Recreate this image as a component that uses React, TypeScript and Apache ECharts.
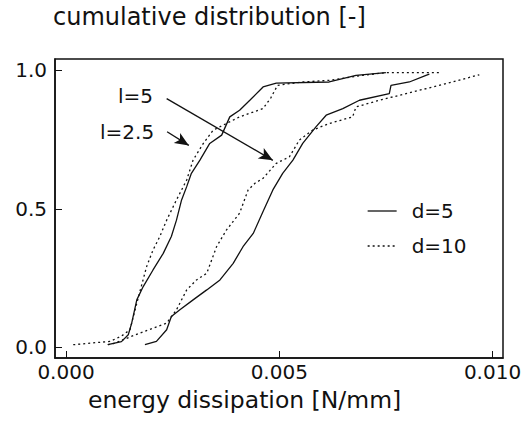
import React, { useEffect, useRef } from "react";
import * as echarts from "echarts";

// Tick values
const xTicks = [0, 0.005, 0.01];
const yTicks = [0, 0.5, 1.0];

// l = 2.5, d = 5 (solid, left)
const l25d5: [number, number][] = [
  [0.00098, 0.009], [0.0013, 0.02], [0.00146, 0.045], [0.00154, 0.087], [0.00166, 0.171],
  [0.00181, 0.219], [0.00204, 0.279], [0.00228, 0.339], [0.00247, 0.4], [0.00259, 0.459],
  [0.00271, 0.532], [0.00283, 0.58], [0.00294, 0.628], [0.00314, 0.676], [0.00337, 0.736],
  [0.00365, 0.766], [0.00384, 0.832], [0.00407, 0.856], [0.00431, 0.892], [0.00462, 0.94],
  [0.00493, 0.954], [0.00617, 0.958], [0.0068, 0.982], [0.0075, 0.992],
];

// l = 2.5, d = 10 (dotted, left)
const l25d10: [number, number][] = [
  [0.00017, 0.009], [0.0006, 0.015], [0.00103, 0.021], [0.0013, 0.04], [0.0015, 0.063],
  [0.00166, 0.159], [0.00189, 0.291], [0.00204, 0.351], [0.0022, 0.4], [0.00236, 0.459],
  [0.00259, 0.532], [0.00283, 0.604], [0.00298, 0.676], [0.00322, 0.736], [0.00345, 0.784],
  [0.00376, 0.808], [0.00407, 0.832], [0.00462, 0.862], [0.0048, 0.9], [0.00496, 0.946],
  [0.00555, 0.958], [0.00617, 0.964], [0.00696, 0.982], [0.0075, 0.992], [0.00875, 0.992],
];

// l = 5, d = 5 (solid, right)
const l5d5: [number, number][] = [
  [0.00185, 0.009], [0.00212, 0.021], [0.00236, 0.063], [0.00247, 0.111], [0.00267, 0.135],
  [0.00298, 0.171], [0.0033, 0.207], [0.00361, 0.243], [0.00392, 0.303], [0.00415, 0.363],
  [0.00439, 0.411], [0.00462, 0.49], [0.00485, 0.568], [0.00508, 0.628], [0.00532, 0.676],
  [0.00555, 0.736], [0.00586, 0.796], [0.0061, 0.838], [0.00649, 0.862], [0.00688, 0.892],
  [0.00758, 0.916], [0.00762, 0.946], [0.00805, 0.958], [0.00844, 0.982], [0.00852, 0.986],
];

// l = 5, d = 10 (dotted, right)
const l5d10: [number, number][] = [
  [0.00098, 0.009], [0.00111, 0.013], [0.00173, 0.051], [0.00236, 0.087], [0.00259, 0.135],
  [0.00283, 0.207], [0.00306, 0.243], [0.0033, 0.267], [0.00353, 0.363], [0.00376, 0.423],
  [0.00407, 0.484], [0.00427, 0.568], [0.00443, 0.592], [0.00462, 0.61], [0.00493, 0.664],
  [0.00524, 0.688], [0.00547, 0.748], [0.00578, 0.784], [0.00617, 0.808], [0.00672, 0.832],
  [0.0068, 0.868], [0.00735, 0.892], [0.00813, 0.922], [0.00891, 0.952], [0.00969, 0.984],
];

// Annotation arrows: [start, end] in data coordinates
const arrowL5: [number, number][] = [[0.00236, 0.898], [0.00485, 0.675]];
const arrowL25: [number, number][] = [[0.00237, 0.778], [0.00288, 0.729]];

const FONT = "DejaVu Sans";
const INK = "#111";

export default function App() {
  const ref = useRef<HTMLDivElement>(null);
  useEffect(() => {
    if (!ref.current) return;
    const chart = echarts.init(ref.current, undefined, { renderer: "svg" });
    const solid = { color: INK, width: 1.3, type: "solid" as const };
    const dotted = { color: INK, width: 1.3, type: [2, 3] as any };
    chart.setOption({
      animation: false,
      backgroundColor: "#fff",
      grid: {
        left: 55,
        right: 24,
        top: 59,
        bottom: 80,
        show: true,
        borderColor: INK,
        borderWidth: 1.5,
      },
      xAxis: {
        type: "value",
        min: -0.000258,
        max: 0.010246,
        axisLine: { show: true, onZero: false, lineStyle: { color: INK, width: 1.5 } },
        axisTick: { show: true, inside: true, length: 7, customValues: xTicks, lineStyle: { color: INK, width: 1 } },
        axisLabel: {
          customValues: xTicks,
          formatter: (v: number) => v.toFixed(3),
          fontSize: 20,
          fontFamily: FONT,
          color: INK,
          margin: 4,
        },
        splitLine: { show: false },
      },
      yAxis: {
        type: "value",
        min: -0.039,
        max: 1.041,
        axisLine: { show: true, onZero: false, lineStyle: { color: INK, width: 1.5 } },
        axisTick: { show: true, inside: true, length: 7, customValues: yTicks, lineStyle: { color: INK, width: 1 } },
        axisLabel: {
          customValues: yTicks,
          formatter: (v: number) => v.toFixed(1),
          fontSize: 20,
          fontFamily: FONT,
          color: INK,
          margin: 8,
        },
        splitLine: { show: false },
      },
      legend: {
        data: ["d=5", "d=10"],
        orient: "vertical",
        left: 362,
        top: 196,
        itemWidth: 29,
        itemHeight: 14,
        itemGap: 15,
        itemStyle: { color: "rgba(0,0,0,0)", borderColor: "rgba(0,0,0,0)", borderWidth: 0 },
        lineStyle: { width: 1.3 },
        textStyle: { fontSize: 20, fontFamily: FONT, color: INK, padding: [0, 0, 0, 10] },
        selectedMode: false,
      },
      graphic: [
        {
          type: "text",
          left: 53,
          top: 5,
          style: { text: "cumulative distribution [-]", font: `24px '${FONT}'`, fill: INK },
        },
        {
          type: "text",
          left: 88,
          top: 388,
          style: { text: "energy dissipation [N/mm]", font: `23.5px '${FONT}'`, fill: INK },
        },
        {
          type: "text",
          left: 118,
          top: 86,
          style: { text: "l=5", font: `20px '${FONT}'`, fill: INK },
        },
        {
          type: "text",
          left: 100,
          top: 122,
          style: { text: "l=2.5", font: `20px '${FONT}'`, fill: INK },
        },
      ],
      series: [
        { name: "d=5", type: "line", data: l25d5, showSymbol: false, symbol: "none", lineStyle: solid, itemStyle: { color: INK } },
        { name: "d=10", type: "line", data: l25d10, showSymbol: false, symbol: "none", lineStyle: dotted, itemStyle: { color: INK } },
        { name: "d=5", type: "line", data: l5d5, showSymbol: false, symbol: "none", lineStyle: solid, itemStyle: { color: INK } },
        { name: "d=10", type: "line", data: l5d10, showSymbol: false, symbol: "none", lineStyle: dotted, itemStyle: { color: INK } },
        {
          name: "arrows",
          type: "line",
          data: [],
          markLine: {
            silent: true,
            symbol: ["none", "arrow"],
            symbolSize: [9, 14],
            label: { show: false },
            lineStyle: { color: INK, width: 1.3, type: "solid" },
            itemStyle: { color: INK },
            emphasis: { disabled: true },
            data: [
              [{ coord: arrowL5[0] }, { coord: arrowL5[1] }],
              [{ coord: arrowL25[0] }, { coord: arrowL25[1] }],
            ],
          },
        },
      ],
    });
    return () => chart.dispose();
  }, []);
  return <div ref={ref} style={{ position: "fixed", left: 0, top: 0, width: 527, height: 438 }} />;
}
